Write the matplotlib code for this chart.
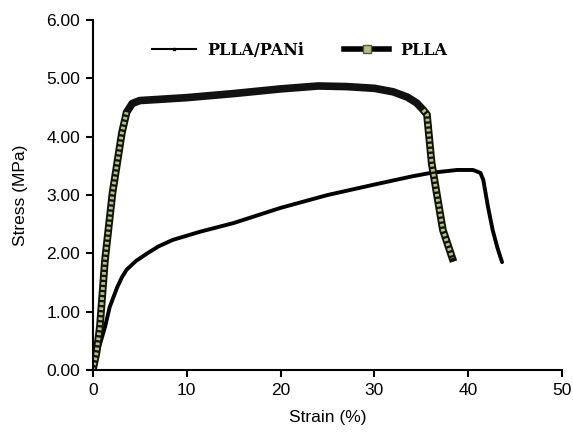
import matplotlib.pyplot as plt
from matplotlib.lines import Line2D

# values
plla_strain = [0, 0.4, 0.75, 1.3, 2.1, 3.1, 3.6, 4.2, 5, 7, 10, 15, 20, 24, 27,
               30, 32, 33.5, 34.5, 35.2, 35.6, 36.1, 36.7, 37.3, 38.3]
plla_stress = [0, 0.3, 0.74, 1.89, 3.04, 4.07, 4.42, 4.57, 4.62, 4.64, 4.67, 4.74,
               4.82, 4.87, 4.86, 4.83, 4.77, 4.68, 4.58, 4.46, 4.38, 3.55, 2.97,
               2.40, 1.92]

pani_strain = [0, 0.5, 1.3, 1.8, 2.6, 3.1, 3.6, 4.6, 5.8, 7, 8.5, 11.4, 15, 20, 25,
               30, 34, 36, 38.8, 40.5, 41.3, 41.6, 42.1, 42.6, 43.1, 43.6]
pani_stress = [0, 0.3, 0.74, 1.08, 1.42, 1.59, 1.72, 1.87, 2.0, 2.12, 2.23, 2.37,
               2.52, 2.78, 3.0, 3.18, 3.32, 3.38, 3.43, 3.43, 3.38, 3.26, 2.8, 2.4,
               2.1, 1.85]

x_ticks = [0, 10, 20, 30, 40, 50]
y_ticks = [0, 1, 2, 3, 4, 5, 6]

green = "#b4c66a"

fig = plt.figure(figsize=(5.73, 4.32), dpi=100)
ax = fig.add_axes([0.162, 0.1435, 0.819, 0.81])

# PLLA/PANi
ax.plot(pani_strain, pani_stress, color="black", lw=2.8, solid_capstyle="round",
        solid_joinstyle="round")

# PLLA: thick black line with green square texture on the steep parts
ax.plot(plla_strain, plla_stress, color="#111111", lw=5.5, solid_joinstyle="round")
ax.plot(plla_strain[:7], plla_stress[:7], color=green, lw=2.8, ls=(0, (0.7, 0.6)))
ax.plot(plla_strain[19:], plla_stress[19:], color=green, lw=2.8, ls=(0, (0.7, 0.6)))

ax.set_xlim(0, 50)
ax.set_ylim(0, 6)
ax.set_xticks(x_ticks)
ax.set_yticks(y_ticks)
ax.set_yticklabels(["%.2f" % v for v in y_ticks])

for s in ["top", "right"]:
    ax.spines[s].set_visible(False)
for s in ["left", "bottom"]:
    ax.spines[s].set_linewidth(1.5)
ax.tick_params(direction="out", length=5, width=1.5, labelsize=12.5, pad=4)
for lab in ax.get_xticklabels() + ax.get_yticklabels():
    lab.set_family("Liberation Sans")

ax.set_xlabel("Strain (%)", family="Liberation Sans", fontsize=12.5, labelpad=9)
ax.set_ylabel("Stress (MPa)", family="Liberation Sans", fontsize=12.5, labelpad=13)

handles = [
    Line2D([], [], color="black", lw=1.5, marker="s", markersize=2,
           markerfacecolor="black"),
    Line2D([], [], color="black", lw=4, marker="s", markersize=6,
           markerfacecolor=green, markeredgecolor="#555555"),
]
ax.legend(handles, ["PLLA/PANi", "PLLA"], ncol=2, frameon=False,
          loc="center", bbox_to_anchor=(0.44, 0.914), columnspacing=2.5,
          handlelength=2.8, handletextpad=0.7,
          prop={"family": "DejaVu Serif", "size": 11.5, "weight": "bold"})

fig.savefig("out.png", dpi=100)
